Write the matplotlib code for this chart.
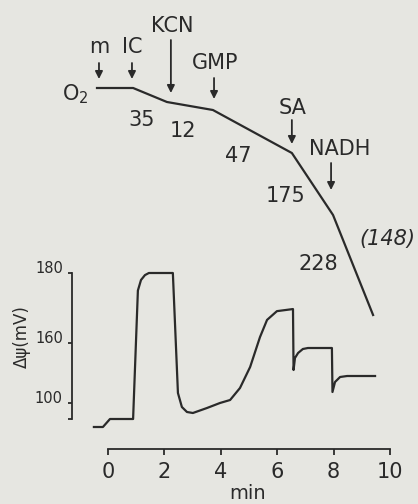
import numpy as np
import matplotlib
matplotlib.use('Agg')
import matplotlib.pyplot as plt

# membrane potential trace (time in min, mV)
psi_t = [-0.50, -0.18, 0.07, 0.89, 1.06, 1.17, 1.31, 1.45, 2.30, 2.48, 2.62, 2.80,
         3.01, 3.51, 3.97, 4.33, 4.68, 5.04, 5.39, 5.64, 5.99, 6.56, 6.58, 6.63,
         6.74, 6.91, 7.09, 7.94, 7.96, 8.05, 8.23, 8.48, 9.47]
psi_mv = [76, 76, 84, 84, 175, 178, 179.4, 180, 180, 110, 96, 91,
          90, 95, 100, 103, 115, 136, 161.7, 166.6, 169.1, 169.7, 133, 145,
          150, 154, 155, 155, 111, 121, 126, 127, 127]

# oxygen electrode trace (arbitrary units, relative to start)
o2_t = [-0.39, 0.89, 2.09, 3.72, 6.52, 7.98, 9.40]
o2_level = [0, 0, -14, -22, -65, -127, -227]

additions = ['m', 'IC', 'KCN', 'GMP', 'SA', 'NADH']
add_t = [-0.32, 0.85, 2.23, 3.76, 6.52, 7.91]

rates = ['35', '12', '47', '175', '228', '(148)']

psi_ticks = [84, 100, 160, 180]
psi_ticklabels = ['', '100', '160', '180']
time_ticks = [0, 2, 4, 6, 8, 10]

# layout of the annotations (in o2 axis units)
arrow_top = [25, 25, 48, 10, -32, -75]
arrow_bot = [9, 9, -5, -11, -56, -102]
label_x = [-0.32, 0.85, 2.28, 3.80, 6.55, 8.23]
label_y = [35, 35, 56, 19, -26, -67]
rate_x = [1.21, 2.66, 4.61, 6.28, 7.45, 9.89]
rate_y = [-38, -49, -74, -114, -182, -157]

ink = '#2a2a2a'
bg = '#e6e6e1'
plt.rcParams['font.family'] = ['DejaVu Sans']

# the potential axis is not linear: stretch 160-180 mV
mv_knots = [-200, 100, 160, 180, 300]
h_knots = [-300, 0, 60, 130, 550]


def fwd(v):
    return np.interp(v, mv_knots, h_knots)


def inv(h):
    return np.interp(h, h_knots, mv_knots)


fig = plt.figure(figsize=(4.18, 5.04), dpi=100, facecolor=bg)
xlim = (-108 / 28.2, (418 - 108) / 28.2)

ax_o2 = fig.add_axes([0, 0, 1, 1])
ax_o2.patch.set_visible(False)
ax_o2.set_xlim(xlim)
ax_o2.set_ylim(-416, 88)
ax_o2.axis('off')

ax_o2.plot(o2_t, o2_level, color=ink, lw=1.6, solid_joinstyle='round')
ax_o2.text(-1.17, -12, 'O$_2$', fontsize=15, color=ink, ha='center', va='baseline')

for i in range(len(additions)):
    ax_o2.annotate('', xy=(add_t[i], arrow_bot[i]), xytext=(add_t[i], arrow_top[i]),
                   arrowprops=dict(arrowstyle='-|>', color=ink, lw=1.3,
                                   mutation_scale=11, shrinkA=0, shrinkB=0))
    ax_o2.text(label_x[i], label_y[i], additions[i], fontsize=15, color=ink,
               ha='center', va='baseline')

for i in range(len(rates)):
    style = 'italic' if rates[i].startswith('(') else 'normal'
    ax_o2.text(rate_x[i], rate_y[i], rates[i], fontsize=15, color=ink,
               ha='center', va='baseline', style=style)

ax = fig.add_axes([0, 0, 1, 1])
ax.patch.set_visible(False)
ax.set_yscale('function', functions=(fwd, inv))
ax.set_xlim(xlim)
ax.set_ylim(inv(-101), inv(403))

ax.plot(psi_t, psi_mv, color=ink, lw=1.6, solid_joinstyle='round')

for s in ['top', 'right']:
    ax.spines[s].set_visible(False)
ax.spines['left'].set_position(('data', -1.28))
ax.spines['left'].set_bounds(84, 180)
ax.spines['bottom'].set_position(('data', inv(-46)))
ax.spines['bottom'].set_bounds(0, 10)
for s in ['left', 'bottom']:
    ax.spines[s].set_color(ink)
    ax.spines[s].set_linewidth(1.3)

ax.set_yticks(psi_ticks, psi_ticklabels)
ax.yaxis.set_minor_locator(matplotlib.ticker.NullLocator())
ax.tick_params(axis='y', direction='out', length=3, width=1.3, pad=3.5,
               labelsize=10.5, colors=ink)
for lab in ax.get_yticklabels():
    lab.set_va('baseline')

ax.set_xticks(time_ticks)
ax.tick_params(axis='x', direction='out', length=4, width=1.3, pad=5,
               labelsize=15, colors=ink)

fig.text(22 / 418, 1 - 337 / 504, 'Δψ(mV)', rotation=90, fontsize=12,
         color=ink, ha='center', va='center')
fig.text(248 / 418, 1 / 504, 'min', fontsize=14, color=ink, ha='center',
         va='bottom')

fig.savefig('out.png', dpi=100, facecolor=bg)
